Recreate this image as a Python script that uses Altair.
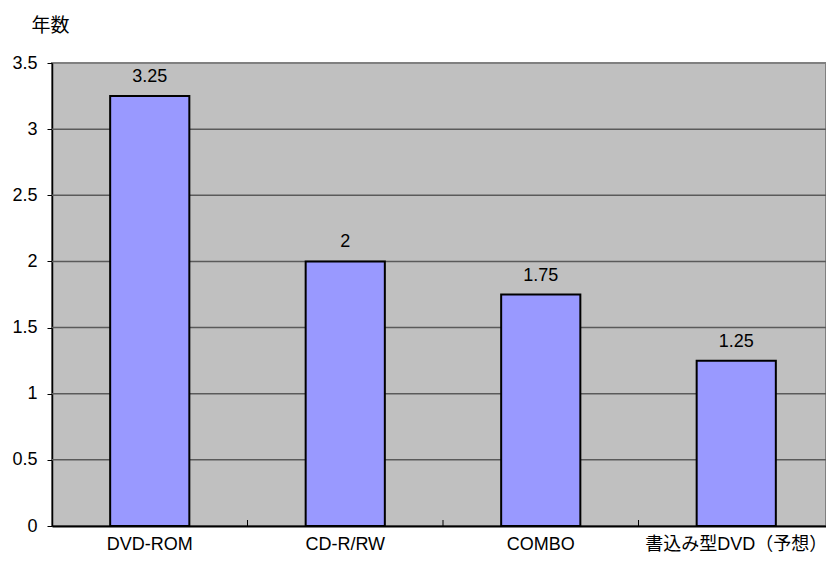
import altair as alt
import pandas as pd

# Average replacement cycle (years) per drive type
categories = ["DVD-ROM", "CD-R/RW", "COMBO", "書込み型DVD（予想）"]
years = [3.25, 2, 1.75, 1.25]
y_ticks = [0, 0.5, 1, 1.5, 2, 2.5, 3, 3.5]
grid_values = [0.5, 1, 1.5, 2, 2.5, 3]

df = pd.DataFrame({"cat": categories, "years": years})
sep_df = pd.DataFrame({"cat": categories[1:]})

FONT = "Liberation Sans, Noto Sans CJK JP"
CJK = "Noto Sans CJK JP"
W, H = 774, 463

x_scale = alt.Scale(domain=categories, range=[0, 782], paddingInner=0, paddingOuter=0)
y_scale = alt.Scale(domain=[0, 3.5], nice=False)

x_enc = alt.X(
    "cat:N",
    scale=x_scale,
    sort=categories,
    axis=alt.Axis(
        title=None,
        labelAngle=0,
        labelFont=FONT,
        labelFontSize=18,
        labelColor="black",
        labelPadding=9,
        labelLimit=400,
        labelOverlap=False,
        ticks=False,
        domainColor="black",
        domainWidth=2,
        grid=False,
    ),
)

y_enc = alt.Y(
    "years:Q",
    scale=y_scale,
    axis=alt.Axis(
        values=y_ticks,
        labelExpr="'' + datum.value",
        title="年数",
        titleAngle=0,
        titleAlign="left",
        titleBaseline="middle",
        titleX=-21,
        titleY=-38,
        titleFont=CJK,
        titleFontSize=19,
        titleFontWeight="normal",
        titleColor="black",
        labelFont=FONT,
        labelFontSize=18,
        labelColor="black",
        labelPadding=10,
        tickSize=5,
        tickColor="black",
        domainColor="black",
        domainWidth=1.5,
        grid=False,
    ),
)

# horizontal gridlines
grid = alt.Chart(pd.DataFrame({"g": grid_values})).mark_rule(
    color="#5a5a5a", strokeWidth=1.5
).encode(y=alt.Y("g:Q", scale=y_scale))

bars = alt.Chart(df).mark_bar(
    width={"band": 0.405},
    color="#9999FF",
    stroke="black",
    strokeWidth=2,
).encode(x=x_enc, y=y_enc)

labels = alt.Chart(df).mark_text(
    font=FONT, fontSize=18, color="black", baseline="bottom", dy=-10
).encode(
    x=alt.X("cat:N", scale=x_scale, sort=categories),
    y=alt.Y("years:Q", scale=y_scale),
    text=alt.Text("years:Q"),
)

# small separators between categories on the baseline
seps = alt.Chart(sep_df).mark_rule(color="black", strokeWidth=1).encode(
    x=alt.X("cat:N", scale=x_scale, sort=categories, bandPosition=0),
    y=alt.value(H),
    y2=alt.value(H - 6),
)

chart = (
    alt.layer(grid, bars, labels, seps)
    .properties(
        width=W,
        height=H,
        autosize=alt.AutoSizeParams(type="none"),
        padding={"left": 52, "top": 63, "right": 0, "bottom": 35},
        background="white",
    )
    .configure_view(fill="#C0C0C0", stroke="#808080", strokeWidth=2)
)

chart.save("out.html", embed_options={"renderer": "svg", "actions": False})
